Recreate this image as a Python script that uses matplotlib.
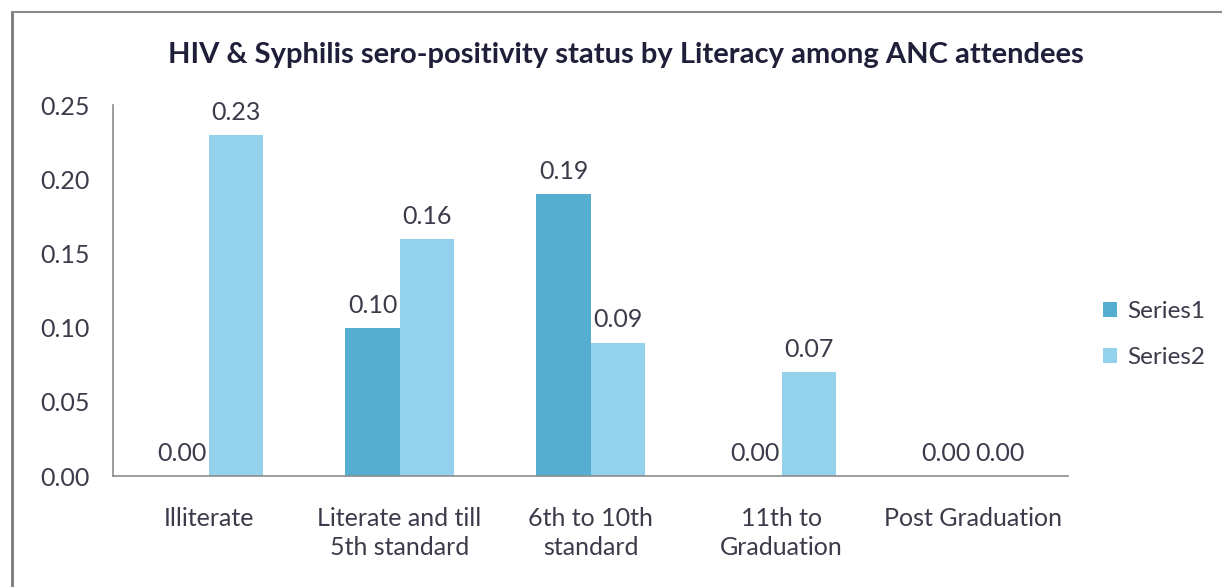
import numpy as np
import matplotlib
matplotlib.use("Agg")
from matplotlib import pyplot as plt
from matplotlib.lines import Line2D

# data
categories = ["Illiterate", "Literate and till\n5th standard", "6th to 10th\nstandard",
              "11th to\nGraduation", "Post Graduation"]
series1 = [0.00, 0.10, 0.19, 0.00, 0.00]
series2 = [0.23, 0.16, 0.09, 0.07, 0.00]
yticks = [0.00, 0.05, 0.10, 0.15, 0.20, 0.25]

plt.rcParams['font.family'] = ['Lato', 'DejaVu Sans']
txt = '#3b3b4b'

fig = plt.figure(figsize=(12.22, 5.87), dpi=100)
ax = fig.add_axes([0.0925, 0.189, 0.7815, 0.632])

x = np.arange(len(categories))
w = 0.283
b1 = ax.bar(x - w/2, series1, w, color='#55aecf', label='Series1')
b2 = ax.bar(x + w/2, series2, w, color='#93d1ec', label='Series2')

for bars, vals in ((b1, series1), (b2, series2)):
	for r, v in zip(bars, vals):
		ax.annotate('%.2f' % v, (r.get_x() + r.get_width()/2, v), xytext=(0, 8),
			textcoords='offset points', ha='center', va='bottom', fontsize=18, color=txt)

ax.set_xlim(-0.5, len(categories) - 0.5)
ax.set_ylim(0, 0.25)
ax.set_yticks(yticks)
ax.set_yticklabels(['%.2f' % t for t in yticks])
ax.set_xticks(x)
ax.set_xticklabels(categories, linespacing=1.35)
ax.tick_params(axis='y', length=0, pad=17, labelsize=18, labelcolor=txt)
ax.tick_params(axis='x', length=0, pad=22, labelsize=18, labelcolor=txt)
for s in ['top', 'right']:
	ax.spines[s].set_visible(False)
for s in ['left', 'bottom']:
	ax.spines[s].set_color('#8c8c8c')
	ax.spines[s].set_linewidth(1.2)

fig.text(0.512, 0.906, 'HIV & Syphilis sero-positivity status by Literacy among ANC attendees',
	ha='center', va='center', fontsize=21, fontweight='bold', color='#1f1f3a')

fig.legend(handles=[b1, b2], loc='center left', bbox_to_anchor=(0.885, 0.43),
	frameon=False, fontsize=17.5, handlelength=0.55, handleheight=0.55,
	handletextpad=0.45, labelspacing=1.05, labelcolor=txt)

# outer frame of the chart area
fig.add_artist(Line2D([0.0098, 0.0098], [0.0, 0.98], transform=fig.transFigure, color='#7a7a7a', lw=2))
fig.add_artist(Line2D([0.0098, 1.0], [0.98, 0.98], transform=fig.transFigure, color='#8a8a8a', lw=1.5))

plt.savefig('out.png', dpi=100)
